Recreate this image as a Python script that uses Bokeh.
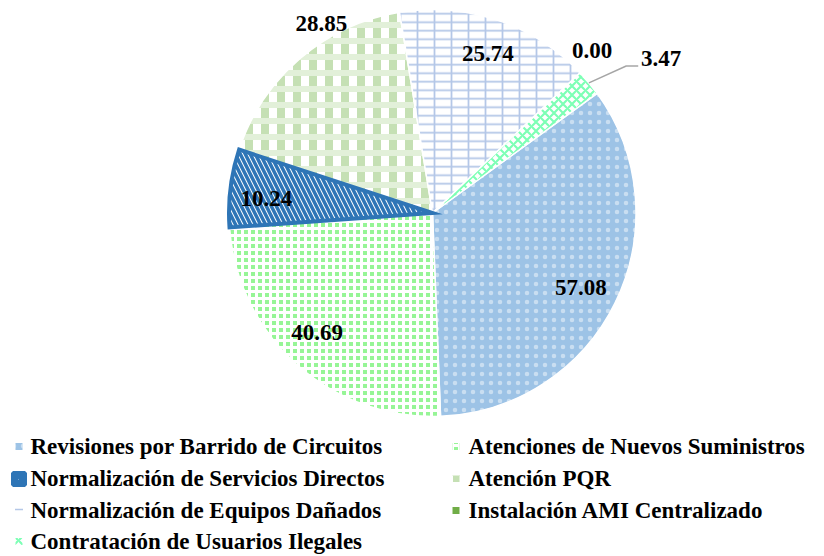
import math
from bokeh.plotting import figure
from bokeh.models import Range1d
from bokeh.core.properties import value
from bokeh.embed import file_html
from bokeh.resources import INLINE

# ---------------- data ----------------
categories = [
    "Revisiones por Barrido de Circuitos",
    "Atenciones de Nuevos Suministros",
    "Normalización de Servicios Directos",
    "Atención PQR",
    "Normalización de Equipos Dañados",
    "Instalación AMI Centralizado",
    "Contratación de Usuarios Ilegales",
]
values = [57.08, 40.69, 10.24, 28.85, 25.74, 0.00, 3.47]

# ---------------- layout / style ----------------
W, H = 824, 556
FONT = "Liberation Serif"
first_slice_angle = 54.0          # degrees, clockwise from 12 o'clock
CX, CY, R = 432, 212.5, 203.5     # screen pixels

def sx(x):
    return x

def sy(y):
    return H - y

# each slice is painted as one or more layers (fill + hatch overlays)
layers = [
    [dict(fill_color="#9DC3E6", hatch_pattern="dot", hatch_color="white", hatch_scale=9, hatch_alpha=0.45)],
    [dict(fill_color="#96F596", hatch_pattern="cross", hatch_color="white", hatch_scale=7, hatch_weight=3)],
    [dict(fill_color="white", hatch_pattern="left_diagonal_line", hatch_color="#2E75B6", hatch_scale=10, hatch_weight=3.5)],
    [dict(fill_color="white", hatch_pattern="vertical_line", hatch_color="#C5E0B4", hatch_scale=16, hatch_weight=8),
     dict(fill_color=None, hatch_pattern="horizontal_line", hatch_color="#E2F0D9", hatch_scale=16, hatch_weight=6)],
    [dict(fill_color="white", hatch_pattern="horizontal_line", hatch_color="#B4C7E7", hatch_scale=8.5, hatch_weight=1.8),
     dict(fill_color=None, hatch_pattern="vertical_line", hatch_color="#B4C7E7", hatch_scale=17, hatch_weight=1.8)],
    [dict(fill_color="#70AD47")],
    [dict(fill_color="white", hatch_pattern="diagonal_cross", hatch_color="#7DFFB5", hatch_scale=9, hatch_weight=2.2)],
]

# label placement: radial factor and angular shift (degrees) from slice middle
label_r_factor = [0.815, 0.815, 0.82, 1.08, 0.83, 1.12, 1.355]
label_dtheta = [0.7, 2.2, -2.0, 10.2, 0.6, -2.0, 5.8]

p = figure(width=W, height=H, x_range=Range1d(0, W), y_range=Range1d(0, H),
           output_backend="svg", toolbar_location=None, min_border=0,
           x_axis_location=None, y_axis_location=None)
p.grid.visible = False
p.outline_line_color = None
p.background_fill_color = "white"
p.border_fill_color = "white"

total = sum(values)
theta = first_slice_angle
starts, ends, mids = [], [], []
for v in values:
    span = v / total * 360.0
    starts.append(theta)
    ends.append(theta + span)
    mids.append(theta + span / 2)
    theta += span

cx, cy = sx(CX), sy(CY)

def polar(th_deg, r):
    a = math.radians(90 - th_deg)
    return cx + r * math.cos(a), cy + r * math.sin(a)

order = [0, 1, 3, 4, 5, 6, 2]
for i in order:
    if values[i] <= 0:
        continue
    sa = [math.radians(90 - ends[i])]
    ea = [math.radians(90 - starts[i])]
    for L in layers[i]:
        p.wedge(x=[cx], y=[cy], radius=R, start_angle=sa, end_angle=ea,
                direction="anticlock", line_color=None, **L)
    if i == 2:
        p.wedge(x=[cx], y=[cy], radius=R, start_angle=sa, end_angle=ea,
                direction="anticlock", fill_color=None,
                line_color="#2E75B6", line_width=4, line_join="miter")
    else:
        p.wedge(x=[cx], y=[cy], radius=R, start_angle=sa, end_angle=ea,
                direction="anticlock", fill_color=None,
                line_color="white", line_width=1.5)

# data labels
lx, ly, lt = [], [], []
for i, v in enumerate(values):
    x, y = polar(mids[i] + label_dtheta[i], R * label_r_factor[i])
    lx.append(x); ly.append(y); lt.append(f"{v:.2f}")
p.text(x=lx, y=ly, text=lt, text_font=value(FONT), text_font_style="bold",
       text_font_size="23px", text_align="center", text_baseline="middle", text_color="black")

# leader line for the small slice
k = 6
x0, y0 = polar(mids[k], R)
p.line(x=[x0, lx[k] - 35, lx[k] - 23], y=[y0, ly[k] - 7, ly[k] - 7],
       line_color="#A6A6A6", line_width=1.5)

# legend
col_text_x = [30, 468]
col_mark_x = [18.5, 455.5]
row_mid = [446, 478, 510, 541]
for i, name in enumerate(categories):
    col, row = i % 2, i // 2
    p.text(x=[sx(col_text_x[col])], y=[sy(row_mid[row])], text=[name],
           text_font=value(FONT), text_font_style="bold", text_font_size="23px",
           text_align="left", text_baseline="middle", text_color="black")
    mx, my = sx(col_mark_x[col]), sy(row_mid[row])
    if i == 2:
        p.scatter(x=[mx], y=[sy(row_mid[row] + 0.5)], marker="square", size=12,
                  fill_color="white", line_color="#2E75B6", line_width=4,
                  hatch_pattern="left_diagonal_line", hatch_color="#2E75B6",
                  hatch_scale=6, hatch_weight=3)
    elif i == 4:
        p.rect(x=[mx], y=[my + 1], width=8, height=1.5, fill_color="#B4C7E7", line_color=None)
    else:
        for L in layers[i]:
            p.rect(x=[mx], y=[my], width=7, height=7, line_color=None, **L)

open("out.html", "w").write(file_html(p, INLINE))
